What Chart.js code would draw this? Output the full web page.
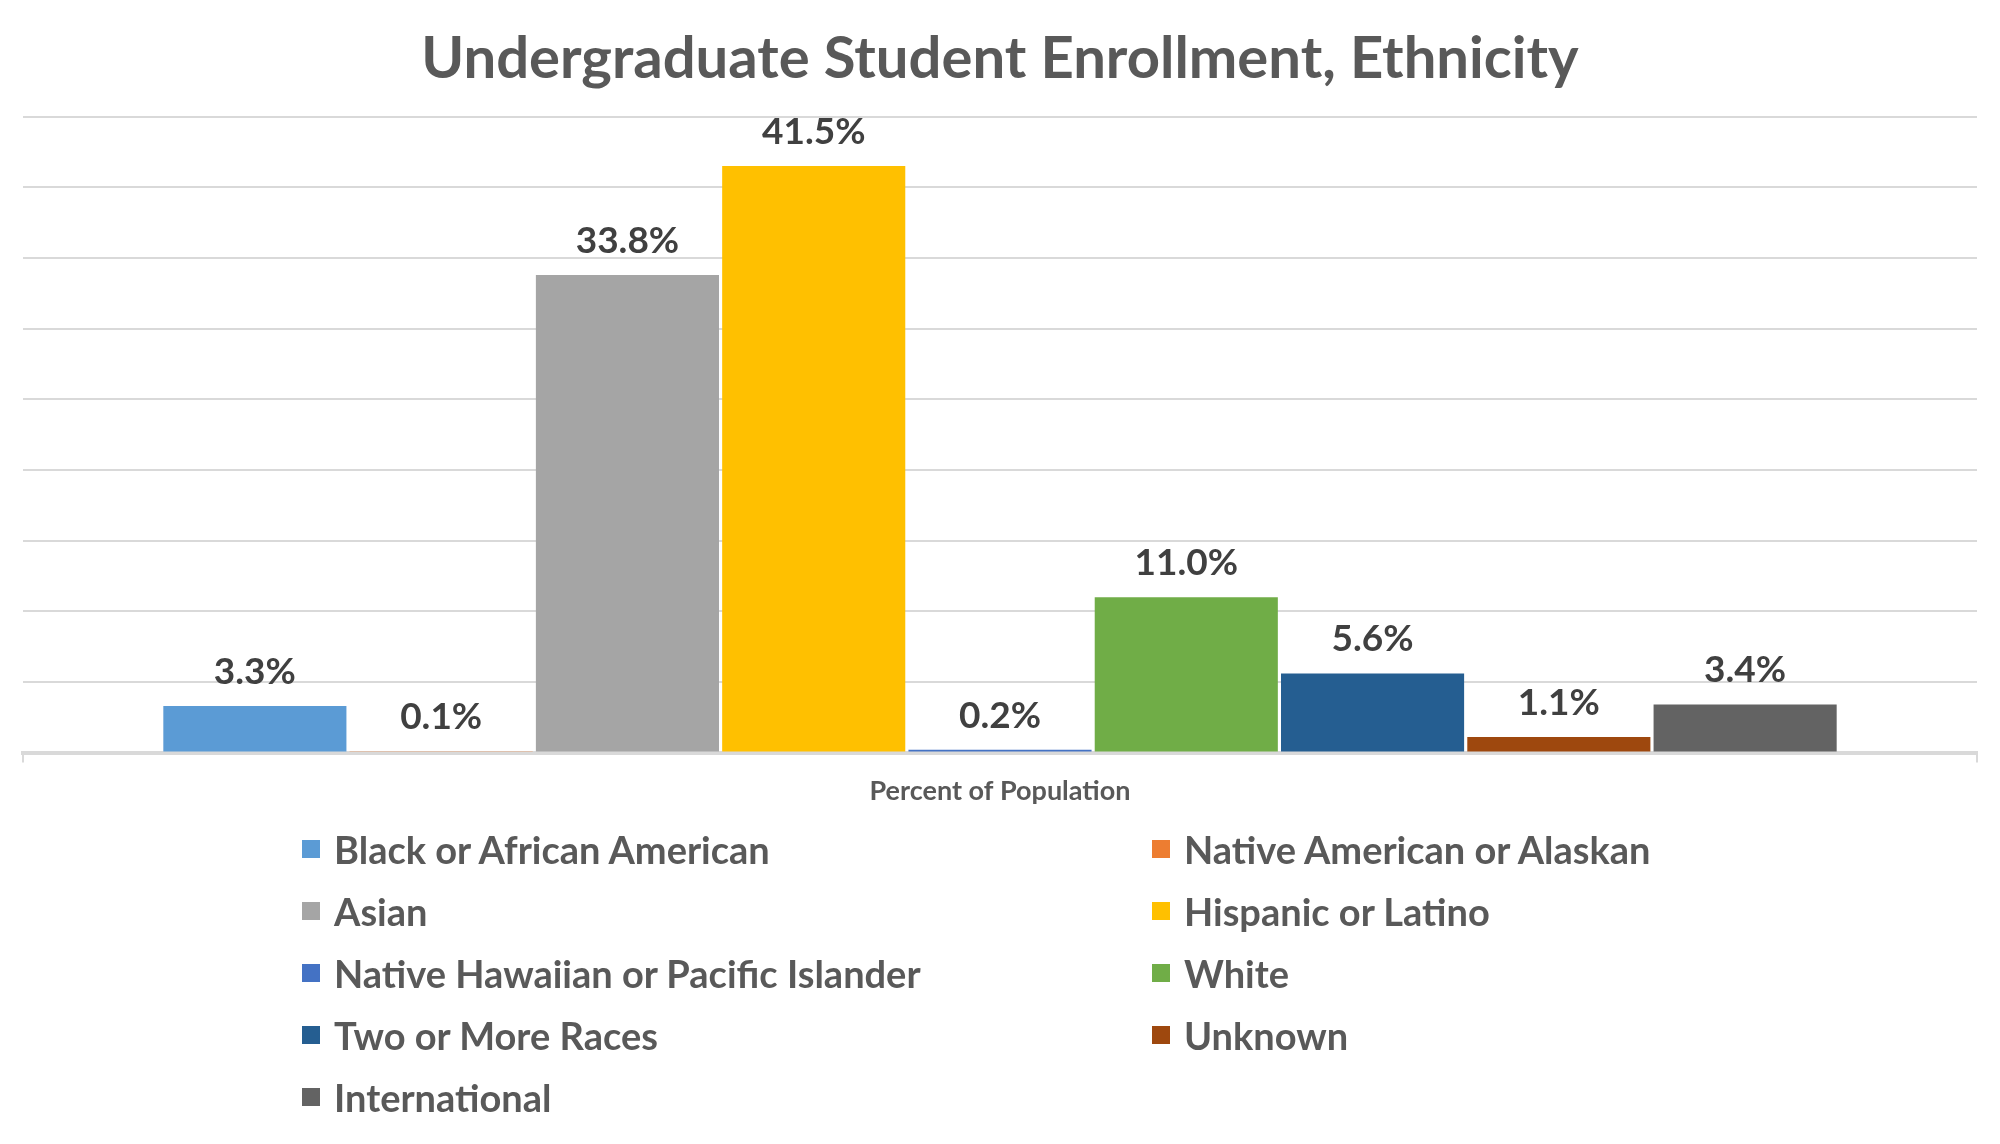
<!DOCTYPE html>
<html>
<head>
<meta charset="utf-8">
<title>Undergraduate Student Enrollment, Ethnicity</title>
<script src="https://cdn.jsdelivr.net/npm/chart.js@4.4.0/dist/chart.umd.min.js"></script>
<style>
    body { margin: 0; background: #ffffff; }
    #wrap { position: relative; width: 2000px; height: 1144px; }
    #legend {
        position: absolute;
        left: 302px;
        top: 818px;
        display: grid;
        grid-template-columns: 850px 850px;
        grid-auto-rows: 62px;
        font-family: Lato, sans-serif;
        font-weight: bold;
        font-size: 38px;
        color: #595959;
    }
    .item { display: flex; align-items: center; }
    .box { width: 18px; height: 18px; margin-right: 14px; flex: none; }
</style>
</head>
<body>
<div id="wrap">
    <canvas id="chart" width="2000" height="1144"></canvas>
    <div id="legend"></div>
</div>
<script>
const categories = ['Percent of Population'];
const groups = [
    'Black or African American',
    'Native American or Alaskan',
    'Asian',
    'Hispanic or Latino',
    'Native Hawaiian or Pacific Islander',
    'White',
    'Two or More Races',
    'Unknown',
    'International'
];
const percents = [3.3, 0.1, 33.8, 41.5, 0.2, 11.0, 5.6, 1.1, 3.4];
const colors = ['#5b9bd5', '#ed7d31', '#a5a5a5', '#ffc000', '#4472c4', '#70ad47', '#255e91', '#9e480e', '#636363'];

// value labels above each bar
const barLabels = {
    id: 'barLabels',
    afterDatasetsDraw(chart) {
        const ctx = chart.ctx;
        ctx.save();
        ctx.font = 'bold 37px Lato, sans-serif';
        ctx.fillStyle = '#404040';
        ctx.textAlign = 'center';
        ctx.textBaseline = 'middle';
        chart.data.datasets.forEach((ds, i) => {
            chart.getDatasetMeta(i).data.forEach((bar, j) => {
                ctx.fillText(ds.data[j].toFixed(1) + '%', bar.x, bar.y - 34);
            });
        });
        ctx.restore();
    }
};

const datasets = groups.map((name, i) => ({
    label: name,
    data: [percents[i]],
    backgroundColor: colors[i],
    barPercentage: 0.983,
    categoryPercentage: 0.858
}));

new Chart(document.getElementById('chart'), {
    type: 'bar',
    data: { labels: categories, datasets: datasets },
    options: {
        responsive: false,
        animation: false,
        devicePixelRatio: 1,
        layout: { padding: { left: 23, right: 23, bottom: 325 } },
        plugins: {
            legend: { display: false },
            tooltip: { enabled: false },
            title: {
                display: true,
                text: 'Undergraduate Student Enrollment, Ethnicity',
                color: '#595959',
                font: { family: 'Lato, sans-serif', size: 58, weight: 'bold' },
                padding: { top: 24, bottom: 23 }
            }
        },
        scales: {
            x: {
                z: 1,
                grid: { drawOnChartArea: false, color: '#d9d9d9', lineWidth: 2, tickLength: 10 },
                border: { display: true, color: '#d9d9d9', width: 4 },
                ticks: {
                    color: '#595959',
                    padding: 12,
                    font: { family: 'Lato, sans-serif', size: 27, weight: 'bold' }
                }
            },
            y: {
                min: 0,
                max: 45,
                ticks: { display: false, stepSize: 5 },
                grid: { color: '#d9d9d9', lineWidth: 2, drawTicks: false },
                border: { display: false }
            }
        }
    },
    plugins: [barLabels]
});

// two-column legend built from the same arrays
const legend = document.getElementById('legend');
groups.forEach((name, i) => {
    const item = document.createElement('div');
    item.className = 'item';
    const box = document.createElement('span');
    box.className = 'box';
    box.style.background = colors[i];
    const text = document.createElement('span');
    text.textContent = name;
    item.appendChild(box);
    item.appendChild(text);
    legend.appendChild(item);
});
</script>
</body>
</html>
